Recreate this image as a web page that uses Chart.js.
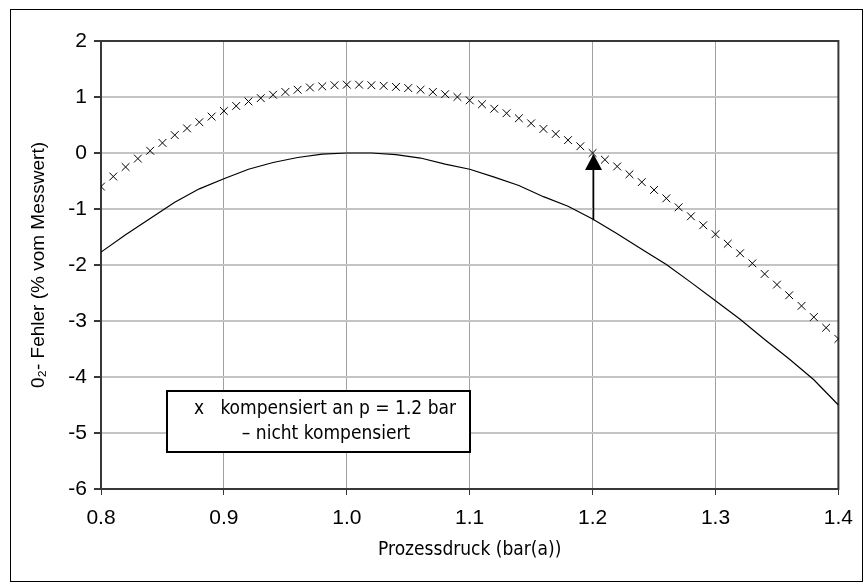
<!DOCTYPE html>
<html>
<head>
<meta charset="utf-8">
<script src="https://cdn.jsdelivr.net/npm/chart.js@4.4.1/dist/chart.umd.min.js"></script>
<style>
  html, body { margin: 0; padding: 0; background: #ffffff; }
  #wrap { width: 864px; height: 583px; }
</style>
</head>
<body>
<div id="wrap"><canvas id="errChart" width="864" height="583"></canvas></div>
<script>
// x values (bar(a)) of the compensated series, read every 0.01
const pressure = [
    0.80, 0.81, 0.82, 0.83, 0.84, 0.85, 0.86, 0.87, 0.88, 0.89,
    0.90, 0.91, 0.92, 0.93, 0.94, 0.95, 0.96, 0.97, 0.98, 0.99,
    1.00, 1.01, 1.02, 1.03, 1.04, 1.05, 1.06, 1.07, 1.08, 1.09,
    1.10, 1.11, 1.12, 1.13, 1.14, 1.15, 1.16, 1.17, 1.18, 1.19,
    1.20, 1.21, 1.22, 1.23, 1.24, 1.25, 1.26, 1.27, 1.28, 1.29,
    1.30, 1.31, 1.32, 1.33, 1.34, 1.35, 1.36, 1.37, 1.38, 1.39, 1.40
];
// compensated at p = 1.2 bar (x markers)
const compensated = [
    -0.60, -0.42, -0.25, -0.10, 0.04, 0.18, 0.32, 0.44, 0.55, 0.65,
    0.75, 0.84, 0.92, 0.98, 1.04, 1.09, 1.13, 1.17, 1.19, 1.21,
    1.22, 1.22, 1.21, 1.20, 1.18, 1.16, 1.13, 1.09, 1.05, 1.00,
    0.94, 0.87, 0.79, 0.71, 0.62, 0.53, 0.43, 0.34, 0.23, 0.12,
    0.00, -0.12, -0.24, -0.38, -0.52, -0.66, -0.81, -0.97, -1.13, -1.29,
    -1.45, -1.62, -1.79, -1.97, -2.16, -2.35, -2.54, -2.73, -2.93, -3.12, -3.32
];
// not compensated (solid line)
const linePressure = [
    0.80, 0.82, 0.84, 0.86, 0.88, 0.90, 0.92, 0.94, 0.96, 0.98,
    1.00, 1.02, 1.04, 1.06, 1.08, 1.10, 1.12, 1.14, 1.16, 1.18,
    1.20, 1.22, 1.24, 1.26, 1.28, 1.30, 1.32, 1.34, 1.36, 1.38, 1.40
];
const uncompensated = [
    -1.77, -1.46, -1.17, -0.88, -0.64, -0.46, -0.29, -0.17, -0.08, -0.02,
    0.00, 0.00, -0.03, -0.09, -0.20, -0.29, -0.43, -0.58, -0.78, -0.95,
    -1.18, -1.44, -1.72, -1.99, -2.31, -2.64, -2.97, -3.33, -3.68, -4.05, -4.50
];
const xTicks = [0.8, 0.9, 1.0, 1.1, 1.2, 1.3, 1.4];
const yTicks = [2, 1, 0, -1, -2, -3, -4, -5, -6];

// arrow at the compensation point
const arrowAt = 1.2;
const arrowFrom = -1.2;
const arrowTo = 0.0;

const legendLines = ["x   kompensiert an p = 1.2 bar", "\u2013 nicht kompensiert"];

const narrowFont = "'Liberation Sans Narrow', 'DejaVu Sans Condensed', 'Arial Narrow', sans-serif";
const plainFont = "'Liberation Sans', Arial, sans-serif";

function toPoints(xs, ys) {
    return xs.map((x, i) => ({ x: x, y: ys[i] }));
}

// frame round the plot area, outer border, arrow and the boxed legend
const extrasPlugin = {
    id: "extras",
    beforeDatasetsDraw(chart) {
        const a = chart.chartArea;
        const ctx = chart.ctx;
        ctx.save();
        ctx.strokeStyle = "#383838";
        ctx.lineWidth = 2;
        ctx.strokeRect(a.left, a.top, a.right - a.left, a.bottom - a.top);
        ctx.restore();
    },
    afterDatasetsDraw(chart) {
        const ctx = chart.ctx;
        const xs = chart.scales.x, ys = chart.scales.y;
        const px = Math.round(xs.getPixelForValue(arrowAt)) + 0.5;
        const yFrom = ys.getPixelForValue(arrowFrom);
        const yTo = ys.getPixelForValue(arrowTo);
        ctx.save();
        ctx.strokeStyle = "#000";
        ctx.lineWidth = 1.5;
        ctx.beginPath();
        ctx.moveTo(px, yFrom);
        ctx.lineTo(px, yTo + 14);
        ctx.stroke();
        ctx.fillStyle = "#000";
        ctx.beginPath();
        ctx.moveTo(px, yTo + 1);
        ctx.lineTo(px - 8.5, yTo + 17);
        ctx.lineTo(px + 8.5, yTo + 17);
        ctx.closePath();
        ctx.fill();
        ctx.restore();
    },
    afterDraw(chart) {
        const ctx = chart.ctx;
        ctx.save();
        ctx.strokeStyle = "#000";
        ctx.lineWidth = 1;
        ctx.strokeRect(10.5, 9.5, 852, 572);

        const bx = 167, by = 391, bw = 303, bh = 61;
        ctx.fillStyle = "#fff";
        ctx.fillRect(bx, by, bw, bh);
        ctx.lineWidth = 2;
        ctx.strokeRect(bx, by, bw, bh);
        ctx.fillStyle = "#000";
        ctx.font = "19px " + narrowFont;
        ctx.textAlign = "center";
        ctx.textBaseline = "middle";
        ctx.fillText(legendLines[0], 325, 409);
        ctx.fillText(legendLines[1], 326, 434);
        ctx.restore();
    }
};

new Chart(document.getElementById("errChart"), {
    type: "scatter",
    data: {
        datasets: [
            {
                label: "kompensiert an p = 1.2 bar",
                data: toPoints(pressure, compensated),
                showLine: false,
                pointStyle: "crossRot",
                pointRadius: 5.5,
                borderColor: "#000",
                backgroundColor: "#000",
                borderWidth: 1
            },
            {
                label: "nicht kompensiert",
                data: toPoints(linePressure, uncompensated),
                showLine: true,
                pointRadius: 0,
                borderColor: "#000",
                borderWidth: 1.2,
                tension: 0,
                fill: false
            }
        ]
    },
    options: {
        responsive: false,
        animation: false,
        layout: { padding: { left: 23, right: 20, top: 41, bottom: 18 } },
        plugins: {
            legend: { display: false },
            tooltip: { enabled: false }
        },
        scales: {
            x: {
                type: "linear",
                min: 0.8,
                max: 1.4,
                afterFit: s => { s.height = 76; },
                afterBuildTicks: s => { s.ticks = xTicks.map(v => ({ value: v })); },
                ticks: {
                    color: "#000",
                    font: { family: plainFont, size: 21 },
                    padding: 11,
                    maxRotation: 0,
                    callback: v => v.toFixed(1)
                },
                grid: { color: "#a0a0a0", lineWidth: 1, tickColor: "#383838", tickLength: 6 },
                border: { display: false },
                title: {
                    display: true,
                    text: "Prozessdruck (bar(a))",
                    color: "#000",
                    font: { family: narrowFont, size: 19 },
                    padding: { top: 0, bottom: 4 }
                }
            },
            y: {
                type: "linear",
                min: -6,
                max: 2,
                afterFit: s => { s.width = 78; },
                afterBuildTicks: s => { s.ticks = yTicks.map(v => ({ value: v })); },
                ticks: {
                    color: "#000",
                    font: { family: plainFont, size: 21 },
                    padding: 7
                },
                grid: { color: "#c4c4c4", lineWidth: 2, tickColor: "#383838", tickLength: 7 },
                border: { display: false },
                title: {
                    display: true,
                    text: "0\u2082- Fehler (% vom Messwert)",
                    color: "#000",
                    font: { family: plainFont, size: 19 },
                    padding: 4
                }
            }
        }
    },
    plugins: [extrasPlugin]
});
</script>
</body>
</html>
